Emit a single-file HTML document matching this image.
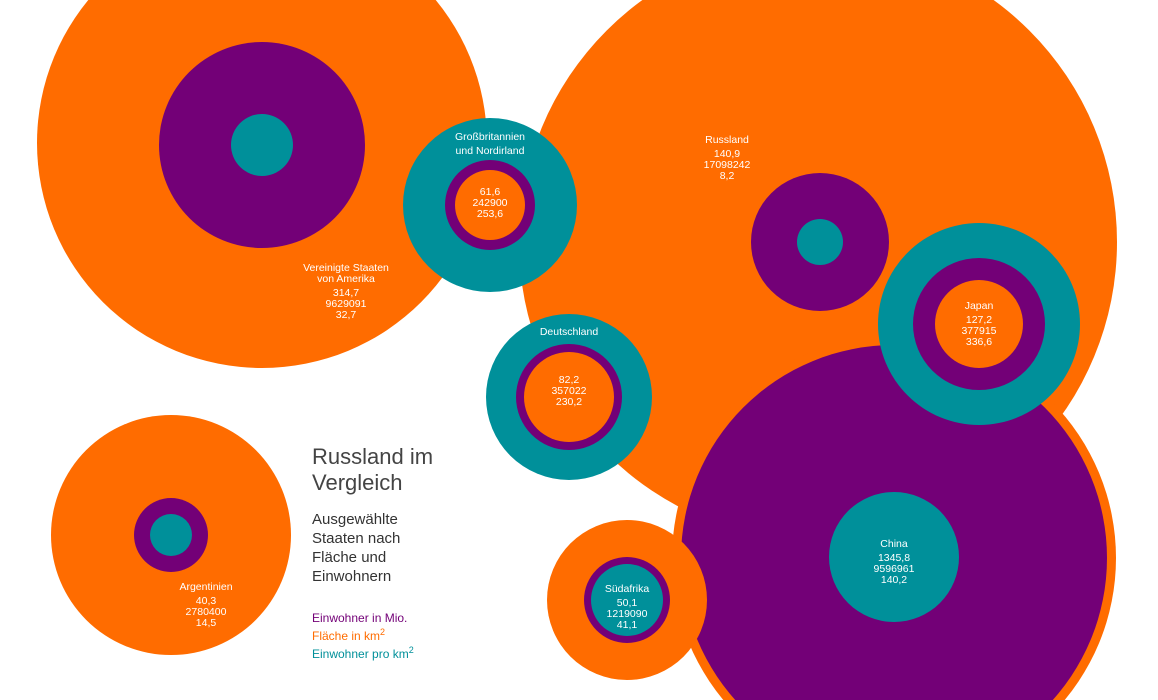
<!DOCTYPE html>
<html><head><meta charset="utf-8"><style>
html,body{margin:0;padding:0;background:#fff;width:1158px;height:700px;overflow:hidden;}
svg{display:block;font-family:"Liberation Sans",sans-serif;}
.w{fill:#fff;font-size:10.5px;text-anchor:middle;}
</style></head><body>
<svg width="1158" height="700" viewBox="0 0 1158 700">
<g>
<circle cx="262" cy="143" r="225" fill="#ff6c00"/>
<circle cx="262" cy="145" r="103" fill="#730077"/>
<circle cx="262" cy="145" r="31" fill="#00909a"/>
<circle cx="818" cy="242" r="299" fill="#ff6c00"/>
<circle cx="894" cy="558" r="222" fill="#ff6c00"/>
<circle cx="894" cy="558" r="213" fill="#730077"/>
<circle cx="894" cy="557" r="65" fill="#00909a"/>
<circle cx="820" cy="242" r="69" fill="#730077"/>
<circle cx="820" cy="242" r="23" fill="#00909a"/>
<circle cx="979" cy="324" r="101" fill="#00909a"/>
<circle cx="979" cy="324" r="66" fill="#730077"/>
<circle cx="979" cy="324" r="44" fill="#ff6c00"/>
<circle cx="490" cy="205" r="87" fill="#00909a"/>
<circle cx="490" cy="205" r="45" fill="#730077"/>
<circle cx="490" cy="205" r="35" fill="#ff6c00"/>
<circle cx="569" cy="397" r="83" fill="#00909a"/>
<circle cx="569" cy="397" r="53" fill="#730077"/>
<circle cx="569" cy="397" r="45" fill="#ff6c00"/>
<circle cx="627" cy="600" r="80" fill="#ff6c00"/>
<circle cx="627" cy="600" r="43" fill="#730077"/>
<circle cx="627" cy="600" r="36" fill="#00909a"/>
<circle cx="171" cy="535" r="120" fill="#ff6c00"/>
<circle cx="171" cy="535" r="37" fill="#730077"/>
<circle cx="171" cy="535" r="21" fill="#00909a"/>
</g>
<g class="w">
<text x="346" y="271">Vereinigte Staaten</text><text x="346" y="282">von Amerika</text>
<text x="346" y="296">314,7</text><text x="346" y="307">9629091</text><text x="346" y="318">32,7</text>
<text x="727" y="143">Russland</text><text x="727" y="157">140,9</text><text x="727" y="168">17098242</text><text x="727" y="179">8,2</text>
<text x="490" y="140">Großbritannien</text><text x="490" y="154">und Nordirland</text>
<text x="490" y="195">61,6</text><text x="490" y="206">242900</text><text x="490" y="217">253,6</text>
<text x="569" y="335">Deutschland</text>
<text x="569" y="383">82,2</text><text x="569" y="394">357022</text><text x="569" y="405">230,2</text>
<text x="979" y="309">Japan</text><text x="979" y="323">127,2</text><text x="979" y="334">377915</text><text x="979" y="345">336,6</text>
<text x="894" y="547">China</text><text x="894" y="561">1345,8</text><text x="894" y="572">9596961</text><text x="894" y="583">140,2</text>
<text x="627" y="592">Südafrika</text><text x="627" y="606">50,1</text><text x="627" y="617">1219090</text><text x="627" y="628">41,1</text>
<text x="206" y="590">Argentinien</text><text x="206" y="604">40,3</text><text x="206" y="615">2780400</text><text x="206" y="626">14,5</text>
</g>
<text x="312" y="464" font-size="22" fill="#444">Russland im</text>
<text x="312" y="490" font-size="22" fill="#444">Vergleich</text>
<text x="312" y="524" font-size="15" fill="#333">Ausgewählte</text>
<text x="312" y="543" font-size="15" fill="#333">Staaten nach</text>
<text x="312" y="562" font-size="15" fill="#333">Fläche und</text>
<text x="312" y="581" font-size="15" fill="#333">Einwohnern</text>
<text x="312" y="622" font-size="12" fill="#730077">Einwohner in Mio.</text>
<text x="312" y="640" font-size="12" fill="#ff6c00">Fläche in km<tspan dy="-5" font-size="9">2</tspan></text>
<text x="312" y="658" font-size="12" fill="#00909a">Einwohner pro km<tspan dy="-5" font-size="9">2</tspan></text>
</svg>
</body></html>
